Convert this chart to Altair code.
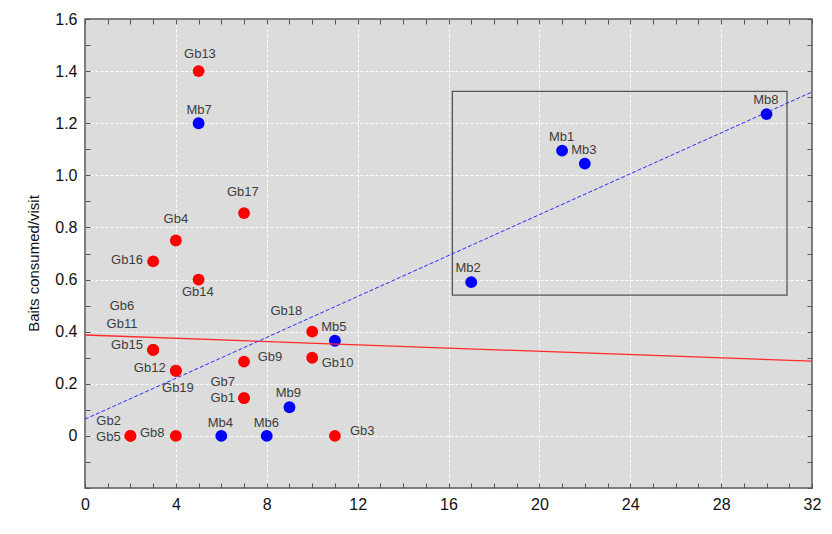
import altair as alt
import pandas as pd

# ---- data ----
names = ["Gb13", "Mb7", "Gb17", "Gb4", "Gb16", "Gb14", "Gb6", "Gb11", "Gb15",
         "Gb12", "Gb19", "Gb18", "Mb5", "Gb9", "Gb10", "Gb7", "Gb1", "Mb9",
         "Gb2", "Gb5", "Gb8", "Mb4", "Mb6", "Gb3", "Mb1", "Mb3", "Mb8", "Mb2"]
groups = ["Gb", "Mb", "Gb", "Gb", "Gb", "Gb", "Gb", "Gb", "Gb",
          "Gb", "Gb", "Gb", "Mb", "Gb", "Gb", "Gb", "Gb", "Mb",
          "Gb", "Gb", "Gb", "Mb", "Mb", "Gb", "Mb", "Mb", "Mb", "Mb"]
visits = [5, 5, 7, 4, 3, 5, 3, 3, 3,
          4, 4, 10, 11, 7, 10, 7, 7, 9,
          2, 2, 4, 6, 8, 11, 21, 22, 30, 17]
baits = [1.40, 1.20, 0.855, 0.75, 0.67, 0.60, 0.33, 0.33, 0.33,
         0.25, 0.25, 0.40, 0.365, 0.285, 0.30, 0.145, 0.145, 0.11,
         0.0, 0.0, 0.0, 0.0, 0.0, 0.0, 1.095, 1.045, 1.235, 0.59]
label_x = [5.06, 5.02, 6.95, 4.0, 1.85, 4.97, 1.63, 1.63, 1.85,
           2.85, 4.09, 8.86, 10.95, 8.14, 11.12, 6.06, 6.06, 8.95,
           1.04, 1.03, 2.96, 5.96, 7.98, 12.2, 20.98, 21.96, 29.97, 16.86]
label_y = [1.466, 1.251, 0.936, 0.833, 0.675, 0.553, 0.499, 0.430, 0.349,
           0.26, 0.185, 0.481, 0.419, 0.304, 0.279, 0.208, 0.145, 0.164,
           0.059, -0.003, 0.01, 0.051, 0.051, 0.02, 1.149, 1.097, 1.289, 0.645]

box_x = [16.17, 30.9]
box_y = [0.54, 1.322]

x_ticks = list(range(0, 33))
y_ticks = [-0.2, -0.1, 0.0, 0.1, 0.2, 0.3, 0.4, 0.5, 0.6, 0.7, 0.8,
           0.9, 1.0, 1.1, 1.2, 1.3, 1.4, 1.5, 1.6]

y_title = "Baits consumed/visit"

df = pd.DataFrame({"name": names, "group": groups, "visits": visits,
                   "baits": baits, "lx": label_x, "ly": label_y})
box_df = pd.DataFrame({"x1": [box_x[0]], "x2": [box_x[1]],
                       "y1": [box_y[0]], "y2": [box_y[1]]})

FONT = "Liberation Sans"
xscale = alt.Scale(domain=[0, 32], nice=False, zero=False)
yscale = alt.Scale(domain=[-0.2, 1.6], nice=False, zero=False)

x_axis = alt.Axis(
    values=x_ticks, orient="bottom", offset=-5, tickSize=5, tickColor="#555",
    domain=False, title=None, labelFlush=False,
    labelExpr="datum.value % 4 == 0 ? datum.label : ''",
    labelFont=FONT, labelFontSize=16, labelColor="#111", labelPadding=8,
    grid=True, gridColor="white", gridDash=[3, 2], gridWidth=1,
    gridOpacity={"condition": {"test": "datum.value % 4 == 0 && datum.value > 0 && datum.value < 32",
                               "value": 1}, "value": 0},
)
y_axis = alt.Axis(
    values=y_ticks, orient="left", offset=-5, tickSize=5, tickColor="#555",
    domain=False, title=y_title, titleFont=FONT, titleFontSize=15,
    titleFontWeight="normal", titleColor="#111", titlePadding=13, titleY=244,
    labelFlush=False,
    labelExpr="datum.value > -0.05 && round(datum.value*10) % 2 == 0 ? (abs(datum.value) < 0.01 ? '0' : format(datum.value, '.1f')) : ''",
    labelFont=FONT, labelFontSize=16, labelColor="#111", labelPadding=8,
    grid=True, gridColor="white", gridDash=[3, 2], gridWidth=1,
    gridOpacity={"condition": {"test": "datum.value > -0.05 && datum.value < 1.55 && round(datum.value*10) % 2 == 0",
                               "value": 1}, "value": 0},
)

base = alt.Chart(df)

points = base.mark_circle(size=140, opacity=1).encode(
    x=alt.X("visits:Q", scale=xscale, axis=x_axis),
    y=alt.Y("baits:Q", scale=yscale, axis=y_axis),
    color=alt.Color("group:N", scale=alt.Scale(domain=["Gb", "Mb"], range=["#ff0000", "#0000ff"]),
                    legend=None),
)

ticks = base.mark_point(opacity=0).encode(
    x=alt.X("visits:Q", scale=xscale,
            axis=alt.Axis(values=x_ticks, orient="top", offset=-5, tickSize=5,
                          tickColor="#555", domain=False, labels=False, grid=False, title=None)),
    y=alt.Y("baits:Q", scale=yscale,
            axis=alt.Axis(values=y_ticks, orient="right", offset=-5, tickSize=5,
                          tickColor="#555", domain=False, labels=False, grid=False, title=None)),
)

box = alt.Chart(box_df).mark_rect(fillOpacity=0, stroke="#555555", strokeWidth=1.3).encode(
    x=alt.X("x1:Q", scale=xscale, axis=None),
    x2="x2:Q",
    y=alt.Y("y1:Q", scale=yscale, axis=None),
    y2="y2:Q",
)

red_line = base.transform_filter(alt.datum.group == "Gb").transform_regression(
    "visits", "baits", extent=[0, 32]
).mark_line(color="#ff2a2a", strokeWidth=1.3).encode(
    x=alt.X("visits:Q", scale=xscale, axis=None),
    y=alt.Y("baits:Q", scale=yscale, axis=None),
)

blue_line = base.transform_filter(alt.datum.group == "Mb").transform_regression(
    "visits", "baits", extent=[0, 32]
).mark_line(color="#2a2aff", strokeWidth=1, strokeDash=[4, 2]).encode(
    x=alt.X("visits:Q", scale=xscale, axis=None),
    y=alt.Y("baits:Q", scale=yscale, axis=None),
)

labels = base.mark_text(font=FONT, fontSize=13, color="#3c3c3c", align="center",
                        baseline="middle").encode(
    x=alt.X("lx:Q", scale=xscale, axis=None),
    y=alt.Y("ly:Q", scale=yscale, axis=None),
    text="name:N",
)

chart = alt.layer(points, ticks, box, red_line, blue_line, labels).resolve_axis(
    x="independent", y="independent"
).properties(
    width=727, height=469,
    autosize=alt.AutoSizeParams(type="none"),
    padding={"left": 77, "top": 11, "right": 12, "bottom": 38},
).configure_view(
    fill="#dcdcdc", stroke="#5a5a5a", strokeWidth=1.5
)

chart.save("out.html", embed_options={"renderer": "svg", "actions": False})
